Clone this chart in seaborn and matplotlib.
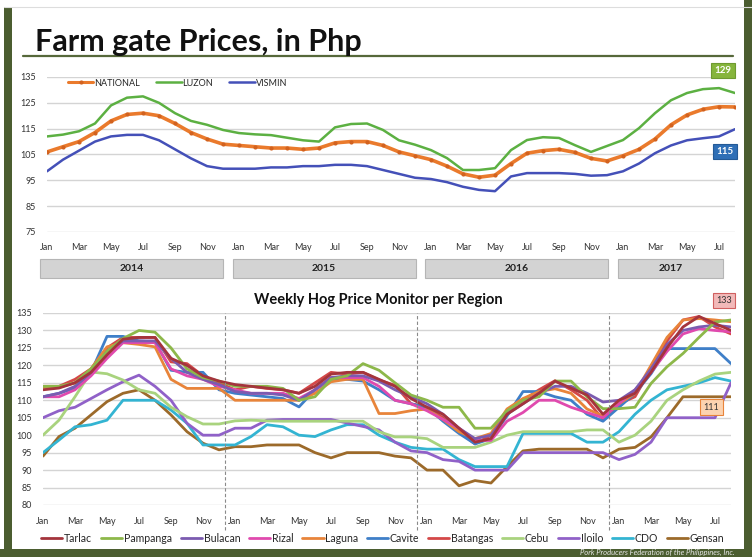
import matplotlib
matplotlib.use("Agg")
import matplotlib.pyplot as plt
from matplotlib.patches import Rectangle
from matplotlib.lines import Line2D
import seaborn as sns
import pandas as pd

# month index: 0 = Jan 2014 ... 42 = Jul 2017, 43 = end of Jul 2017
months = list(range(44))
month_labels = ["Jan", "Mar", "May", "Jul", "Sep", "Nov"]
years = ["2014", "2015", "2016", "2017"]

# --- farm gate prices (top chart) ---
national = [106, 108, 110, 113.5, 118, 120.5, 121, 120, 117, 113.5, 111, 109,
            108.5, 108, 107.5, 107.5, 107, 107.5, 109.5, 110, 110, 108.5, 106, 104.5,
            103, 100.5, 97.5, 96.2, 97, 101.5, 105.5, 106.5, 107, 105.8, 103.5, 102.5,
            104.5, 107, 111, 116.5, 120.3, 122.5, 123.5, 123.4]
luzon = [112, 112.7, 114, 117, 124, 127, 127.5, 125, 121, 118, 116.5, 114.5,
         113.3, 112.8, 112.5, 111.5, 110.5, 110, 115.5, 116.8, 117, 114.5, 110.5, 108.8,
         106.7, 103.6, 99, 99, 99.7, 106.7, 110.6, 111.7, 111.4, 108.6, 106, 108.3,
         110.6, 115.2, 121, 126, 128.8, 130.3, 130.7, 128.8]
vismin = [98.5, 103, 106.5, 110, 112, 112.6, 112.6, 110.5, 107, 103.5, 100.5, 99.5,
          99.5, 99.5, 100, 100, 100.5, 100.5, 101, 101, 100.5, 99, 97.5, 96,
          95.5, 94.3, 92.5, 91.3, 90.8, 96.5, 97.8, 97.8, 97.8, 97.5, 96.8, 97,
          98.5, 101.5, 105.5, 108.5, 110.5, 111.3, 112, 114.8]

# --- weekly hog price per region (bottom chart) ---
tarlac = [113, 113.5, 115, 118, 123, 127.5, 128, 128, 122, 120, 117, 115.5,
          114.5, 114, 113.5, 113, 112, 114, 117.5, 118, 118, 116, 114, 110.5,
          108, 106, 102, 98, 99, 106, 109, 112, 115.5, 113.5, 111.5, 106,
          110, 112, 118, 125, 131, 134, 132, 130]
pampanga = [114, 114, 115, 119, 124, 127.7, 130, 129.5, 125, 119, 116.5, 115.5,
            114, 114, 114, 113.4, 110, 111, 116, 117, 120.5, 118.6, 115, 111.5,
            110, 108, 108, 102, 102, 107, 110, 111, 115.5, 115.5, 111, 107.6,
            107.6, 108, 114.8, 119.6, 123.4, 128, 132.4, 133]
bulacan = [111, 112, 114, 118, 124, 127, 127, 127, 122, 118, 116, 114.5,
           112.5, 112, 112, 111.5, 110, 113, 116.5, 117, 117, 115.5, 113, 111,
           109, 106, 102, 99, 100, 106, 109, 112, 114, 114, 112, 109.5,
           110, 113, 119, 126, 130, 131, 131.5, 131]
rizal = [111, 111, 113, 117, 122, 126.5, 126.5, 126.5, 119, 117, 116, 114,
         113, 112, 112, 112, 110.5, 113, 116.5, 116.5, 116.5, 114, 110, 109,
         107, 104.5, 102, 98.5, 98.5, 104, 106.5, 110, 110, 108, 106.5, 105,
         109, 113, 118, 124, 129, 130.5, 130, 129.6]
laguna = [113.7, 113.7, 115, 119, 125.3, 126.5, 126, 125.3, 116, 113.4, 113.4, 113.4,
          110, 110, 110, 110, 110, 112, 115.3, 116, 116, 106.2, 106.2, 107,
          107.5, 104.5, 101, 99, 100.5, 107.5, 110.5, 112.5, 113.3, 112, 107.5, 105.5,
          109, 112, 120, 128, 133, 133.4, 133, 132.5]
cavite = [111, 112, 113.5, 118, 128.3, 128.3, 127, 126.7, 118.6, 118, 118, 113,
          112, 111.5, 111, 110.5, 108.1, 113, 116, 116, 115.5, 113, 110, 109,
          108, 104, 100.5, 97.5, 99, 105.5, 112.5, 112.5, 111, 110, 106, 104,
          108, 112, 117.6, 124.8, 124.8, 124.8, 124.8, 120.5]
batangas = [114, 114, 116, 119, 125, 128, 128, 128, 121, 120.5, 117, 115,
            113, 114, 113.4, 113, 112, 115, 118, 117.5, 118, 115.8, 114.3, 109,
            108, 105, 101, 97.5, 100, 107, 110, 113, 115.6, 113, 110, 104.5,
            109, 111, 119, 127, 133, 134, 131, 129]
cebu = [100, 104.3, 111, 118.1, 117.6, 115.8, 113, 112, 108, 105.3, 103.2, 103.2,
        104.1, 104.3, 104.1, 104, 104, 104, 104, 104, 104, 101, 99.5, 99.5,
        99, 96.5, 96.5, 96.5, 98, 100, 101, 101, 101, 101, 101.5, 101.5,
        98, 100, 104, 110, 113, 115.5, 117.5, 118]
iloilo = [105, 107, 108, 110.5, 113, 115.3, 117.2, 114, 110, 103.4, 100, 100,
          102, 102, 104.3, 104.5, 104.5, 104.5, 104.5, 103.5, 102.5, 101.5, 98, 95.5,
          95, 93, 92.5, 90, 90, 90, 95, 95, 95, 95, 95, 95,
          93, 94.5, 98, 105, 105, 105, 105, 115]
cdo = [95, 98.6, 102.4, 103, 104.3, 110, 110, 110, 107.2, 103.4, 97.2, 97.2,
       97.2, 99.6, 103, 102.4, 100, 99.6, 101.5, 103, 103, 100, 98, 96.5,
       96, 96, 93, 91, 91, 91, 100.5, 100.5, 100.5, 100.5, 98, 98,
       101, 106, 110, 113, 114, 115, 116.5, 115.5]
gensan = [94, 99.6, 102, 105.8, 109.6, 112, 113, 110, 105.8, 101, 97.7, 95.8,
          96.7, 96.7, 97.2, 97.2, 97.2, 95, 93.5, 95, 95, 95, 94, 93.5,
          90, 90, 85.5, 87, 86.3, 91, 95.5, 96, 96, 96, 96, 93.5,
          96, 96.5, 99.5, 105, 111, 111, 111, 111]

regions = ["Tarlac", "Pampanga", "Bulacan", "Rizal", "Laguna", "Cavite",
           "Batangas", "Cebu", "Iloilo", "CDO", "Gensan"]
region_values = [tarlac, pampanga, bulacan, rizal, laguna, cavite,
                 batangas, cebu, iloilo, cdo, gensan]
region_colors = ["#A4343C", "#8DB84A", "#7B5BB0", "#E04AAE", "#E8843A", "#3F7FC8",
                 "#D44848", "#A9D37E", "#9061C8", "#33B4D2", "#9C6A2A"]

W, H = 752, 557
GREEN = "#4b5d30"

sns.set_style("white")
plt.rcParams["font.family"] = ["Lato", "DejaVu Sans"]

fig = plt.figure(figsize=(W / 100, H / 100), dpi=100)

# page decoration in pixel coordinates
bg = fig.add_axes([0, 0, 1, 1])
bg.set_xlim(0, W)
bg.set_ylim(H, 0)
bg.axis("off")
bg.add_patch(Rectangle((4, 7), 8, H - 7, color=GREEN, lw=0))
bg.add_patch(Rectangle((744, 0), 8, H, color=GREEN, lw=0))
bg.add_patch(Rectangle((0, 549), W, 8, color=GREEN, lw=0))
bg.plot([4, 752], [7, 7], color="#dddddd", lw=0.8)
bg.plot([23, 733], [56, 56], color="#56683a", lw=1.6)
bg.text(35, 42, "Farm gate Prices, in Php", fontsize=22, fontweight="bold",
        va="center", ha="left", color="#111111")
for i, yr in enumerate(years):
    x0 = 40 + 192.5 * i
    x1 = 723 if i == 3 else x0 + 183
    bg.add_patch(Rectangle((x0, 259), x1 - x0, 19, facecolor="#d3d3d3",
                           edgecolor="#b5b5b5", lw=0.8))
    bg.text((x0 + x1) / 2, 268.5, yr, ha="center", va="center", fontsize=7.5,
            fontweight="bold", color="#222222")
bg.text(378, 300, "Weekly Hog Price Monitor per Region", ha="center", va="center",
        fontsize=10.5, fontweight="bold", color="#111111")
bg.text(735, 556, "Pork Producers Federation of the Philippines, Inc.", ha="right",
        va="bottom", fontsize=5.5, style="italic", color="#e6e6e6")


def px_axes(left, top, right, bottom):
    return fig.add_axes([left / W, 1 - bottom / H, (right - left) / W, (bottom - top) / H])


def style_axes(ax, yticks, pad_x):
    ax.set_facecolor("none")
    for s in ax.spines.values():
        s.set_visible(False)
    ax.set_xlim(0, 43)
    ax.set_xticks(range(0, 43, 2))
    ax.set_xticklabels([month_labels[(m // 2) % 6] for m in range(0, 43, 2)])
    ax.set_yticks(yticks)
    ax.set_ylim(yticks[0], yticks[-1])
    ax.grid(axis="y", color="#d4d4d4", lw=1)
    ax.grid(axis="x", visible=False)
    ax.tick_params(axis="both", length=0, labelsize=6.5, colors="#333333")
    ax.tick_params(axis="x", pad=pad_x)
    ax.tick_params(axis="y", pad=8)
    ax.set_xlabel("")
    ax.set_ylabel("")


# ---- top chart ----
ax1 = px_axes(47, 77, 735, 232)
sns.lineplot(x=months, y=luzon, ax=ax1, color="#5cb042", lw=1.8)
sns.lineplot(x=months, y=national, ax=ax1, color="#ea7a2c", lw=2.6,
             marker="o", markersize=3, markeredgewidth=0, markerfacecolor="#d2621f")
sns.lineplot(x=months, y=vismin, ax=ax1, color="#4450b8", lw=1.8)
style_axes(ax1, list(range(75, 136, 10)), 8)

top_handles = [
    Line2D([], [], color="#ea7a2c", lw=2.2, marker="o", markersize=3,
           markerfacecolor="#d2621f", markeredgewidth=0),
    Line2D([], [], color="#5cb042", lw=1.8),
    Line2D([], [], color="#4450b8", lw=1.8),
]
fig.legend(top_handles, ["NATIONAL", "LUZON", "VISMIN"], loc="center left",
           bbox_to_anchor=(60 / W, 1 - 83 / H), ncol=3, frameon=False, fontsize=6.5,
           handlelength=2.8, handletextpad=0.1, columnspacing=1.8)

fig.text(723 / W, 1 - 70.5 / H, "129", ha="center", va="center", fontsize=7,
         fontweight="bold", color="white",
         bbox=dict(boxstyle="square,pad=0.35", fc="#86b53c", ec="#6e9a30", lw=0.8))
fig.text(725 / W, 1 - 151.5 / H, "115", ha="center", va="center", fontsize=7,
         fontweight="bold", color="white",
         bbox=dict(boxstyle="square,pad=0.35", fc="#2f6fb6", ec="#245a96", lw=0.8))

# ---- bottom chart ----
rows = []
for name, vals in zip(regions, region_values):
    for m, v in zip(months, vals):
        rows.append({"month": m, "price": v, "region": name})
df_low = pd.DataFrame(rows)

ax2 = px_axes(43, 313, 731, 505)
sns.lineplot(data=df_low, x="month", y="price", hue="region", hue_order=regions[::-1],
             palette=dict(zip(regions, region_colors)),
             lw=2, legend=False, errorbar=None, ax=ax2)
style_axes(ax2, list(range(80, 136, 5)), 9)
for xb in [11.4, 23.4, 35.4]:
    ax2.axvline(xb, ymin=-0.13, ymax=1, clip_on=False, color="#8a8a8a",
                lw=0.8, ls=(0, (3, 2)))

fig.text(724 / W, 1 - 300.5 / H, "133", ha="center", va="center", fontsize=6.5,
         color="#333333",
         bbox=dict(boxstyle="square,pad=0.35", fc="#f2b9b9", ec="#d06060", lw=0.8))
fig.text(711.5 / W, 1 - 407 / H, "111", ha="center", va="center", fontsize=6.5,
         color="#333333",
         bbox=dict(boxstyle="square,pad=0.35", fc="#fcd3b0", ec="#e8843a", lw=0.8))

low_handles = [Line2D([], [], color=c, lw=2) for c in region_colors]
fig.legend(low_handles, regions, loc="center", bbox_to_anchor=(383 / W, 1 - 538 / H),
           ncol=11, frameon=False, fontsize=7.6, handlelength=2.0, handletextpad=0.15,
           columnspacing=0.85)

fig.savefig("out.png", dpi=100)
